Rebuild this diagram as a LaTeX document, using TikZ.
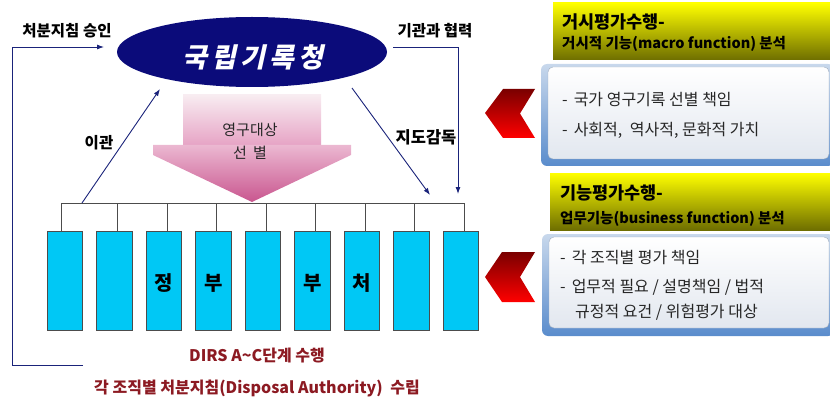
\documentclass[tikz,border=0pt]{standalone}
\usepackage{fontspec}
\setmainfont{Noto Sans CJK KR}
\newfontfamily\krslant{Noto Sans CJK KR}[FakeSlant=0.22]
\usetikzlibrary{shapes.geometric,arrows.meta}
\definecolor{navy}{HTML}{0B0B7A}
\definecolor{lineblue}{HTML}{1A237A}
\definecolor{barcyan}{HTML}{00C8F5}
\definecolor{darkred}{HTML}{8C1A22}
\definecolor{pinktop}{HTML}{F8ECF1}
\definecolor{pinkmid}{HTML}{E6A2C4}
\definecolor{pinkbot}{HTML}{C9568F}
\definecolor{olive}{HTML}{6E6E00}
\definecolor{shadowblue}{HTML}{5A8CCC}
\definecolor{shadowtop}{HTML}{C8D8EC}
\definecolor{bodybot}{HTML}{E2E7EF}
\definecolor{bodyline}{HTML}{A0AEC0}
\definecolor{chevtop}{HTML}{7A0000}
\definecolor{chevbot}{HTML}{FF0000}
\tikzset{
  lbl/.style={font=\bfseries\fontsize{15.5}{17}\selectfont, text=black, inner sep=0},
  conn/.style={draw=lineblue, line width=0.9pt, -{Latex[length=7pt,width=5pt]}},
  bus/.style={draw=black!70, line width=0.8pt},
  barbox/.style={draw=black!70, line width=0.8pt, fill=barcyan, minimum width=35.5pt, minimum height=99pt, inner sep=0},
  bartxt/.style={font=\bfseries\fontsize{20}{22}\selectfont},
  redtxt/.style={font=\bfseries\fontsize{16}{18}\selectfont, text=darkred, inner sep=0},
  hdr1/.style={font=\bfseries\fontsize{17.5}{19}\selectfont, anchor=west, inner sep=0},
  hdr2/.style={font=\bfseries\fontsize{14.5}{16}\selectfont, anchor=west, inner sep=0},
  bodytxt/.style={font=\fontsize{16}{18}\selectfont, anchor=west, inner sep=0, text=black!85},
  seltxt/.style={font=\fontsize{15}{17}\selectfont, inner sep=0, text=black!85},
}
\begin{document}
\begin{tikzpicture}[x=1pt,y=-1pt]
\useasboundingbox (0,0) rectangle (830,401);

% ---------- ellipse
\node[ellipse, fill=navy, minimum width=270pt, minimum height=70pt, inner sep=0] (nara) at (252,52) {};
\node[text=white, font=\krslant\bfseries\fontsize{27}{30}\selectfont, inner sep=0] (naratxt) at (253,57)
  {국\hspace{4pt}립\hspace{4pt}기\hspace{4pt}록\hspace{4pt}청};

% ---------- pink selection arrow
\shade[top color=pinktop, bottom color=pinkmid]
  (183,95) -- (321,95) -- (321,146) -- (183,146) -- cycle;
\shade[top color=pinkmid!70!pinktop, bottom color=pinkbot]
  (183,145) -- (321,145) -- (351,145) -- (351,155) -- (252,202)
  -- (153,155) -- (153,145) -- cycle;
\node[seltxt] (sel1) at (250,130) {영구대상};
\node[seltxt] (sel2) at (250,153) {선\hspace{6pt}별};

% ---------- bars
\foreach \i/\t in {1/,2/,3/정,4/부,5/,6/부,7/처,8/,9/}{
  \node[barbox] (b\i) at ({64.75+49.5*(\i-1)},280.5) {};
  \node[bartxt] (bt\i) at ({64.75+49.5*(\i-1)},283) {\t};
}
\coordinate (busL) at (61,203);
\coordinate (busR) at (465,203);
\draw[bus] (busL) -- (busR);
\draw[bus] ([xshift=-3.75pt]b1.north) -- ([xshift=-3.75pt]b1.north |- busL);
\foreach \i in {2,...,9}{
  \draw[bus] ([xshift=3.25pt]b\i.north) -- ([xshift=3.25pt]b\i.north |- busL);
}

% ---------- left loop (처분지침 승인)
\coordinate (lp0) at (83,365);
\coordinate (lp1) at (12,365);
\coordinate (lp2) at (12,47);
\coordinate (lp3) at (104,47);
\draw[conn] (lp0) -- (lp1) -- (lp2) -- (lp3);
\node[lbl] (approve) at (67,31) {처분지침 승인};

% ---------- 이관 arrow
\coordinate (tr0) at (82,203);
\coordinate (tr1) at (160,89);
\draw[conn] (tr0) -- (tr1);
\node[lbl] (transfer) at (99,143) {이관};

% ---------- 기관과 협력
\coordinate (co0) at (393,47);
\coordinate (co1) at (458,47);
\coordinate (co2) at (458,194);
\draw[conn] (co0) -- (co1) -- (co2);
\node[lbl] (coop) at (435,31) {기관과 협력};

% ---------- 지도감독
\coordinate (su0) at (352,88);
\coordinate (su1) at (430,195);
\draw[conn] (su0) -- (su1);
\node[lbl, font=\bfseries\fontsize{16.5}{18}\selectfont] (super) at (426,137) {지도감독};

% ---------- bottom texts
\node[redtxt] (dirs) at (257,356) {DIRS A\textasciitilde C단계 수행};
\node[redtxt] (da) at (257,388) {각 조직별 처분지침(Disposal Authority)\hspace{4pt} 수립};

% ---------- panel 1
\shade[top color=yellow, bottom color=olive] (553,3) rectangle (831,60);
\node[hdr1] (h1a) at (562,22) {거시평가수행-};
\node[hdr2] (h1b) at (562,44) {거시적 기능(macro function) 분석};
\shade[top color=shadowtop, bottom color=shadowblue, rounded corners=6pt] (541,64) rectangle (834,166);
\shade[top color=white, bottom color=bodybot, draw=bodyline, rounded corners=5pt] (548,67) rectangle (829,159);
\node[bodytxt] (p1a) at (562,100) {-\hspace{6pt}국가 영구기록 선별 책임};
\node[bodytxt] (p1b) at (562,130) {-\hspace{6pt}사회적,\hspace{4pt} 역사적, 문화적 가치};
\shade[top color=chevtop, bottom color=chevbot]
  (485,113) -- (503,89) -- (535,89) -- (520,113.5) -- (535,138) -- (503,138) -- cycle;

% ---------- panel 2
\shade[top color=yellow, bottom color=olive] (550,173) rectangle (831,230);
\node[hdr1] (h2a) at (560,193) {기능평가수행-};
\node[hdr2] (h2b) at (560,219) {업무기능(business function) 분석};
\shade[top color=shadowtop, bottom color=shadowblue, rounded corners=6pt] (542,234) rectangle (834,336);
\shade[top color=white, bottom color=bodybot, draw=bodyline, rounded corners=5pt] (549,237) rectangle (829,328);
\node[bodytxt] (p2a) at (560,258) {-\hspace{6pt}각 조직별 평가 책임};
\node[bodytxt] (p2b) at (560,287) {-\hspace{6pt}업무적 필요 / 설명책임 / 법적};
\node[bodytxt] (p2c) at (575,312) {규정적 요건 / 위험평가 대상};
\shade[top color=chevtop, bottom color=chevbot]
  (485,277) -- (502,252) -- (535,252) -- (520,277) -- (535,302) -- (502,302) -- cycle;
\end{tikzpicture}
\end{document}
